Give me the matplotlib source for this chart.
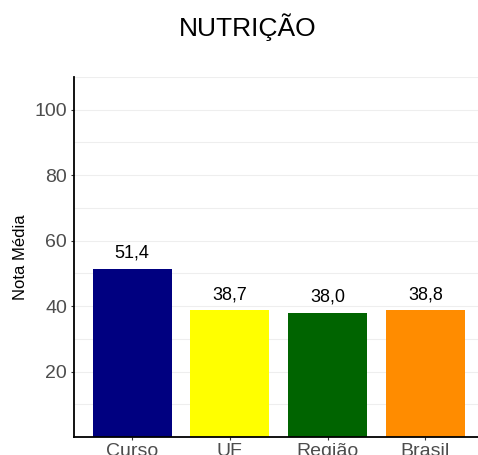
import matplotlib
matplotlib.use("Agg")
import matplotlib.pyplot as plt
from matplotlib.ticker import MultipleLocator

categories = ["Curso", "UF", "Região", "Brasil"]
values = [51.4, 38.7, 38.0, 38.8]
labels = ["51,4", "38,7", "38,0", "38,8"]
colors = ["#000080", "#FFFF00", "#006400", "#FF8C00"]
yticks = [20, 40, 60, 80, 100]

plt.rcParams['font.family'] = ['Liberation Sans', 'DejaVu Sans']

fig = plt.figure(figsize=(4.78, 4.55), dpi=100)
ax = fig.add_axes([73.5/478, 18/455, (484-73.5)/478, 360/455])

x = list(range(1, len(categories) + 1))
ax.bar(x, values, width=0.81, color=colors, zorder=2)
for xi, v, lab in zip(x, values, labels):
    ax.annotate(lab, (xi, v), xytext=(0, 5), textcoords="offset points",
                ha="center", va="bottom", fontsize=13, color="black")

ax.set_xlim(0.4, 4.6)
ax.set_ylim(0, 110)
ax.set_xticks(x)
ax.set_xticklabels(categories)
ax.set_yticks(yticks)
ax.yaxis.set_minor_locator(MultipleLocator(10))
ax.grid(axis="y", which="both", color="#EEEEEE", linewidth=0.8, zorder=0)
ax.set_axisbelow(True)

for s in ["top", "right"]:
    ax.spines[s].set_visible(False)
for s in ["left", "bottom"]:
    ax.spines[s].set_linewidth(1.3)
    ax.spines[s].set_color("black")

ax.tick_params(axis="both", which="major", labelsize=14, labelcolor="#4D4D4D",
               length=2.5, width=0.8, color="#333333", pad=2)
ax.tick_params(axis="y", which="minor", length=0)
ax.set_ylabel("Nota Média", fontsize=12, color="black", labelpad=5)

fig.text(248/478, 1 - 27/455, "NUTRIÇÃO", ha="center", va="center", fontsize=19)

fig.savefig("out.png", dpi=100)
